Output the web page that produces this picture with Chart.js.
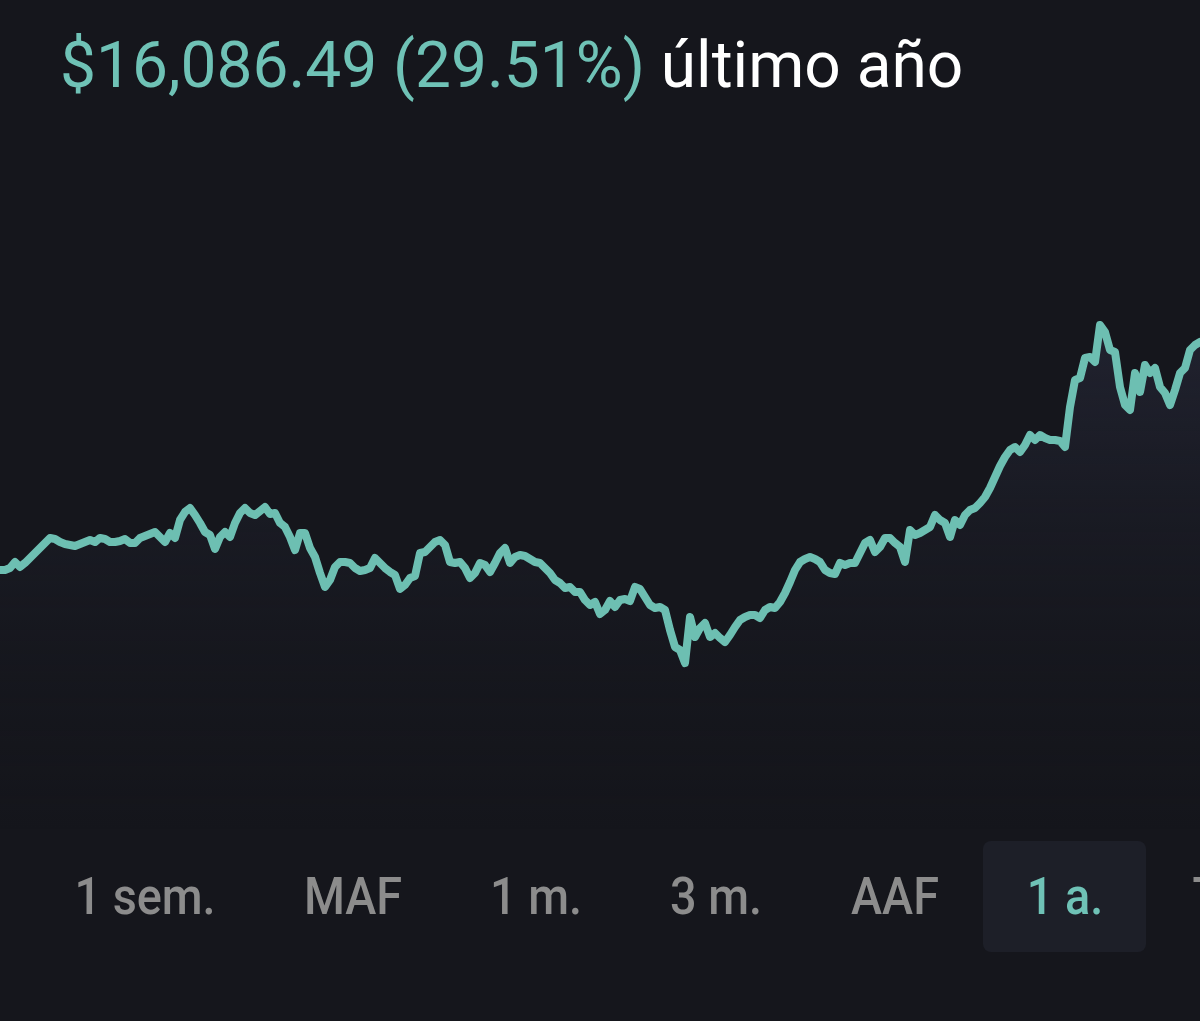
<!DOCTYPE html>
<html lang="es">
<head>
<meta charset="utf-8">
<title>Portafolio - último año</title>
<script src="https://cdn.jsdelivr.net/npm/chart.js@4.4.1/dist/chart.umd.min.js"></script>
<style>
  html, body {
    margin: 0;
    padding: 0;
    width: 1200px;
    height: 1021px;
    overflow: hidden;
    background: #15161c;
    font-family: Roboto, "Noto Sans", sans-serif;
  }
  .headline {
    position: absolute;
    left: 60px;
    top: 34px;
    font-size: 64px;
    line-height: 64px;
    white-space: nowrap;
  }
  .headline .gain { color: #6fc2b6; }
  .headline .period { color: #ffffff; }
  #chart-wrap {
    position: absolute;
    left: 0;
    top: 130px;
    width: 1200px;
    height: 700px;
  }
  .range-btn {
    position: absolute;
    top: 871px;
    font-size: 52px;
    line-height: 52px;
    font-weight: 500;
    color: #8c8c8c;
    white-space: nowrap;
    transform: translateX(-50%) scaleX(0.9);
  }
  .range-btn.active { color: #6fc2b6; }
  .range-box {
    position: absolute;
    left: 983px;
    top: 841px;
    width: 163px;
    height: 111px;
    border-radius: 8px;
    background: #1d1f28;
  }
</style>
</head>
<body>
<div class="headline"><span class="gain">$16,086.49 (29.51%)</span> <span class="period">último año</span></div>
<div id="chart-wrap"><canvas id="value-chart"></canvas></div>
<div class="range-box"></div>
<div id="ranges"></div>
<script>
// Portfolio value over the last year (USD), one point per sample
const portfolioValues = [
  54512, 54512, 54653, 55076, 54724, 55006, 55359, 55711, 56064, 56417,
  56770, 56699, 56487, 56346, 56276, 56205, 56346, 56487, 56629, 56487,
  56770, 56699, 56487, 56487, 56558, 56699, 56417, 56417, 56770, 56911,
  57052, 57193, 56840, 56487, 57122, 56770, 58040, 58604, 58886, 58392,
  57828, 57193, 56981, 55994, 56840, 57193, 56840, 57828, 58533, 58886,
  58533, 58392, 58674, 58957, 58463, 58533, 57828, 57546, 56840, 55923,
  57122, 57122, 56064, 55429, 54300, 53313, 53807, 54724, 55076, 55076,
  55006, 54653, 54441, 54512, 54653, 55359, 55006, 54653, 54371, 54159,
  53172, 53454, 53948, 54089, 55711, 55782, 56135, 56487, 56629, 56276,
  55076, 55006, 55076, 54653, 53948, 54300, 55006, 54865, 54371, 55006,
  55711, 56064, 55006, 55429, 55570, 55500, 55288, 55076, 55006, 54653,
  54300, 53807, 53595, 53242, 53313, 52960, 52960, 52395, 52043, 52254,
  51408, 51690, 52325, 51902, 52395, 52466, 52325, 53313, 53172, 52607,
  52043, 51831, 51902, 51690, 50279, 49080, 48868, 47951, 51196, 49785,
  50420, 50773, 49785, 50067, 49715, 49432, 49926, 50491, 50985, 51196,
  51337, 51337, 51126, 51690, 51902, 51831, 52254, 52889, 53665, 54512,
  55076, 55288, 55429, 55288, 55076, 54512, 54300, 54230, 55006, 54865,
  55006, 55006, 55711, 56417, 56629, 55782, 56135, 56770, 56770, 56417,
  56135, 55076, 57334, 56981, 57122, 57334, 57546, 58392, 58040, 57828,
  56840, 58040, 57687, 58392, 58745, 58886, 59239, 59662, 60297, 61073,
  61849, 62484, 62978, 63190, 62837, 63331, 64036, 63684, 64036, 63825,
  63684, 63684, 63613, 63190, 66012, 67917, 68058, 69469, 69539, 69186,
  71797, 71303, 70033, 69892, 67423, 66153, 65800, 68410, 67071, 68975,
  68410, 68763, 67423, 67000, 66153, 67211, 68410, 68763, 70033, 70386,
  70597,
];

// Range selector labels
const rangeLabels = ['1 sem.', 'MAF', '1 m.', '3 m.', 'AAF', '1 a.', 'Todo'];
const activeRange = '1 a.';

// Hidden value axis range
const valueMin = 36169;
const valueMax = 85554;

const colors = {
  line: '#6dbfb2',
  text: '#8c8c8c',
};

// Range buttons (centre x of each label)
const rangeCenters = [145, 353, 536, 716, 895, 1065, 1245];
const rangesEl = document.getElementById('ranges');
rangeLabels.forEach((label, i) => {
  const el = document.createElement('div');
  el.className = 'range-btn' + (label === activeRange ? ' active' : '');
  el.style.left = rangeCenters[i] + 'px';
  el.textContent = label;
  rangesEl.appendChild(el);
});

const ctx = document.getElementById('value-chart');

new Chart(ctx, {
  type: 'line',
  data: {
    labels: portfolioValues.map((_, i) => i),
    datasets: [
      {
        label: 'Valor',
        data: portfolioValues,
        borderColor: colors.line,
        borderWidth: 8,
        borderJoinStyle: 'round',
        borderCapStyle: 'round',
        pointRadius: 0,
        tension: 0,
        fill: 'start',
        backgroundColor: (context) => {
          const area = context.chart.chartArea;
          if (!area) return 'rgba(0,0,0,0)';
          const g = context.chart.ctx.createLinearGradient(0, area.top + 180, 0, area.bottom);
          g.addColorStop(0, 'rgba(38, 40, 56, 0.75)');
          g.addColorStop(1, 'rgba(21, 22, 28, 0)');
          return g;
        },
      },
    ],
  },
  options: {
    responsive: true,
    maintainAspectRatio: false,
    animation: false,
    layout: { padding: 0 },
    plugins: {
      legend: { display: false },
      tooltip: { enabled: false },
    },
    scales: {
      x: { display: false, offset: false },
      y: { display: false, min: valueMin, max: valueMax },
    },
  },
});
</script>
</body>
</html>
